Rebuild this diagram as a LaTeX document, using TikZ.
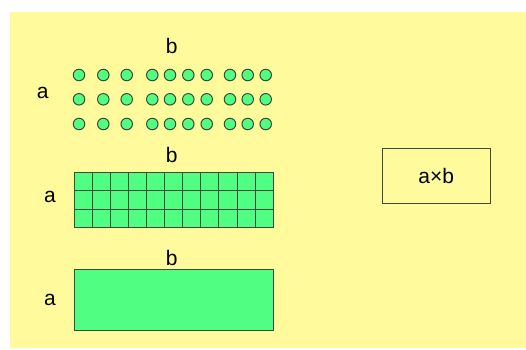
\documentclass[tikz,border=0pt]{standalone}
\usepackage{fontspec}
\setmainfont{Liberation Sans}
\definecolor{bgyellow}{RGB}{255,250,155}
\definecolor{cellgreen}{RGB}{80,255,130}
\definecolor{edgegray}{RGB}{60,75,60}
\begin{document}
\begin{tikzpicture}[x=1pt,y=-1pt,
  lbl/.style={font=\fontsize{21}{21}\selectfont, inner sep=0pt, anchor=center},
  dot/.style={circle, draw=edgegray, fill=cellgreen, line width=1pt, minimum size=11.5pt, inner sep=0pt},
  greenfill/.style={draw=edgegray, fill=cellgreen, line width=1pt},
  prodbox/.style={draw=edgegray, fill=bgyellow, line width=1pt, minimum width=108pt, minimum height=55pt, inner sep=0pt, font=\fontsize{21}{21}\selectfont}]
\useasboundingbox (0,0) rectangle (526,349);
\fill[white] (0,0) rectangle (526,349);
\fill[bgyellow] (10,12) rectangle (526,348);
% top: dots
\node[lbl] (b1) at (171.7,46) {b};
\node[lbl] (a1) at (42.7,93) {a};
\foreach \r/\y in {1/75,2/99.3,3/124}{
  \foreach \c/\x in {1/79,2/103.3,3/126.7,4/152.3,5/170,6/188.3,7/206.7,8/230,9/247.7,10/265.7}{
    \node[dot] (d\r-\c) at (\x,\y) {};
  }
}
% middle: grid
\node[lbl] (b2) at (171.7,155) {b};
\node[lbl] (a2) at (50,197) {a};
\path[greenfill] (74,172.7) rectangle (273.3,227.3);
\foreach \i in {1,...,10}{
  \draw[edgegray, line width=1pt] ({74+\i*199.3/11},172.7) -- ({74+\i*199.3/11},227.3);
}
\foreach \j in {1,2}{
  \draw[edgegray, line width=1pt] (74,{172.7+\j*54.6/3}) -- (273.3,{172.7+\j*54.6/3});
}
% bottom: rectangle
\node[lbl] (b3) at (171.7,258) {b};
\node[lbl] (a3) at (50,300) {a};
\path[greenfill] (74,269.3) rectangle (273.3,330);
% product box
\node[prodbox] (prod) at (436.3,175.7) {a×b};
\end{tikzpicture}
\end{document}
